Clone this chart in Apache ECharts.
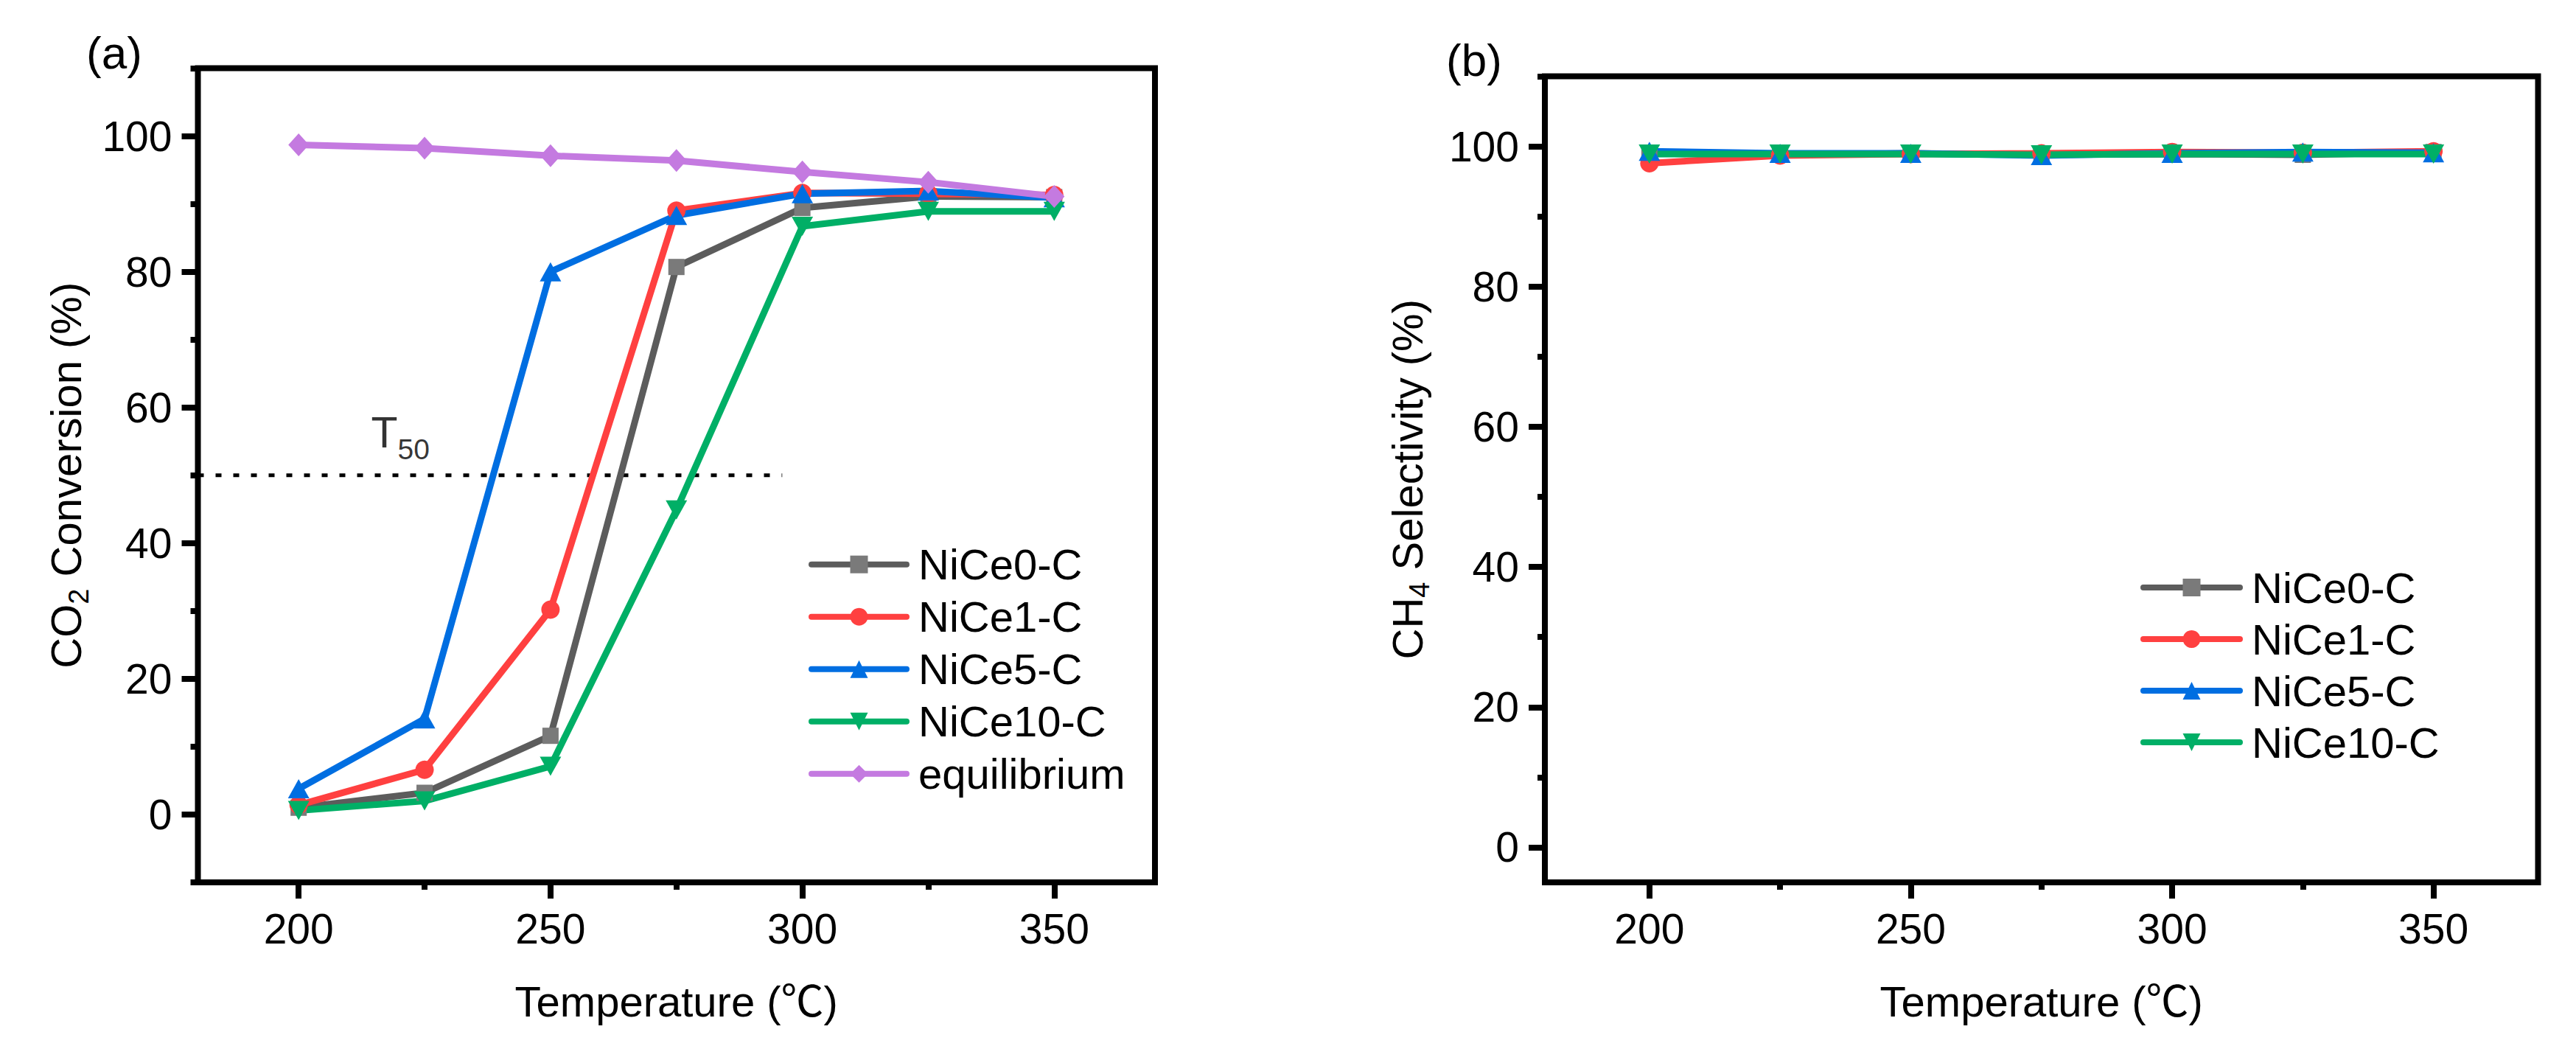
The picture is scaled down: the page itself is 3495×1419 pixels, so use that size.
<!DOCTYPE html>
<html>
<head>
<meta charset="utf-8">
<script src="https://cdn.jsdelivr.net/npm/echarts@6/dist/echarts.min.js"></script>
<style>
html,body{margin:0;padding:0;background:#ffffff;}
#chart{width:3495px;height:1419px;}
</style>
</head>
<body>
<div id="chart"></div>
<script>
// ---------- data ----------
const temps = [200, 225, 250, 275, 300, 325, 350];

// (a) CO2 conversion (%)
const convNiCe0  = [1.0, 3.2, 11.6, 80.7, 89.4, 91.1, 91.0];
const convNiCe1  = [1.4, 6.6, 30.2, 89.0, 91.6, 91.5, 91.3];
const convNiCe5  = [3.8, 14.1, 80.0, 88.3, 91.5, 91.9, 90.9];
const convNiCe10 = [0.6, 2.0, 7.1, 44.9, 86.7, 88.9, 88.9];
const convEquil  = [98.7, 98.2, 97.1, 96.4, 94.7, 93.2, 91.1];

// (b) CH4 selectivity (%)
const selNiCe0  = [99.0, 98.8, 99.0, 98.8, 98.9, 98.8, 99.2];
const selNiCe1  = [97.6, 98.7, 98.9, 99.0, 99.2, 99.1, 99.3];
const selNiCe5  = [99.3, 99.0, 99.0, 98.7, 99.0, 99.2, 99.1];
const selNiCe10 = [98.9, 98.9, 98.9, 98.8, 98.9, 98.9, 98.9];

// T50 reference line and its label
const t50Value = 50;
const t50XRange = [180, 296];
const t50LabelAt = [220.2, 56.3];

// tick values
const xMajorTicks = [200, 250, 300, 350];
const xMinorTicks = [225, 275, 325];
const yMajorTicks = [0, 20, 40, 60, 80, 100];
const yMinorTicksA = [-10, 10, 30, 50, 70, 90, 110];
const yMinorTicksB = [10, 30, 50, 70, 90, 110];

const seriesNames = ['NiCe0-C', 'NiCe1-C', 'NiCe5-C', 'NiCe10-C', 'equilibrium'];

// ---------- styles ----------
const FONT = '"Liberation Sans", Arial, "Noto Sans CJK SC", sans-serif';
const DOWN_TRI = 'path://M0,0L10,0L5,10Z';
const styles = {
  'NiCe0-C':     {line: '#5c5c5c', item: '#7a7a7a', symbol: 'rect', size: 22},
  'NiCe1-C':     {line: '#ff4040', item: '#ff4040', symbol: 'circle', size: 25},
  'NiCe5-C':     {line: '#006ee1', item: '#006ee1', symbol: 'triangle', size: [29, 26]},
  'NiCe10-C':    {line: '#00af66', item: '#00af66', symbol: DOWN_TRI, size: [29, 26]},
  'equilibrium': {line: '#c47ae0', item: '#c47ae0', symbol: 'diamond', size: [28, 31]}
};

function pairs(xs, ys) { return xs.map((x, i) => [x, ys[i]]); }

function makeSeries(name, values, xi, yi) {
  const s = styles[name];
  return {
    name: name, type: 'line', xAxisIndex: xi, yAxisIndex: yi,
    data: pairs(temps, values),
    symbol: s.symbol, symbolSize: s.size, showSymbol: true,
    lineStyle: {color: s.line, width: 9},
    itemStyle: {color: s.item},
    emphasis: {disabled: true},
    z: 3
  };
}

const tickStyle = {color: '#000', width: 8, cap: 'butt'};
const labelStyle = {fontSize: 57, color: '#000', fontFamily: FONT};
const titleRich = {
  a: {fontSize: 58, fontFamily: FONT, color: '#000', lineHeight: 58, verticalAlign: 'top'},
  b: {fontSize: 38, fontFamily: FONT, color: '#000', lineHeight: 38, verticalAlign: 'top', padding: [27, 0, 0, 0]}
};

function xMajor(gi, gap) {
  return {
    gridIndex: gi, type: 'value', position: 'bottom', min: 180, max: 370,
    axisLine: {show: false, onZero: false}, splitLine: {show: false},
    axisTick: {show: true, inside: false, length: 22, lineStyle: tickStyle, customValues: xMajorTicks},
    axisLabel: Object.assign({show: true, margin: 34, customValues: xMajorTicks}, labelStyle),
    name: 'Temperature (℃)', nameLocation: 'middle', nameGap: gap,
    nameTextStyle: {fontSize: 58, color: '#000', fontFamily: FONT}
  };
}
function xMinor(gi) {
  return {
    gridIndex: gi, type: 'value', position: 'bottom', min: 180, max: 370,
    axisLine: {show: false, onZero: false}, splitLine: {show: false}, axisLabel: {show: false},
    axisTick: {show: true, inside: false, length: 10, lineStyle: tickStyle, customValues: xMinorTicks}
  };
}
function yMajor(gi, min, name, gap) {
  return {
    gridIndex: gi, type: 'value', position: 'left', min: min, max: 110,
    axisLine: {show: false, onZero: false}, splitLine: {show: false},
    axisTick: {show: true, inside: false, length: 22, lineStyle: tickStyle, customValues: yMajorTicks},
    axisLabel: Object.assign({show: true, margin: 35, customValues: yMajorTicks}, labelStyle),
    name: name, nameLocation: 'middle', nameRotate: 90, nameGap: gap,
    nameTextStyle: {rich: titleRich}
  };
}
function yMinor(gi, min, ticks) {
  return {
    gridIndex: gi, type: 'value', position: 'left', min: min, max: 110,
    axisLine: {show: false, onZero: false}, splitLine: {show: false}, axisLabel: {show: false},
    axisTick: {show: true, inside: false, length: 10, lineStyle: tickStyle, customValues: ticks}
  };
}

const frame = {show: true, borderColor: '#000', borderWidth: 8, backgroundColor: 'transparent'};
const legendText = {fontSize: 58, lineHeight: 58, color: '#000', fontFamily: FONT, padding: [0, 0, 0, 11]};

const option = {
  animation: false,
  backgroundColor: '#ffffff',
  grid: [
    Object.assign({left: 268.5, top: 92.5, width: 1298.5, height: 1104.5, containLabel: false}, frame),
    Object.assign({left: 2096, top: 103.5, width: 1347.5, height: 1093.5, containLabel: false}, frame)
  ],
  xAxis: [xMajor(0, 132), xMinor(0), xMajor(1, 132), xMinor(1)],
  yAxis: [
    yMajor(0, -10, '{a|CO}{b|2}{a| Conversion (%)}', 150),
    yMinor(0, -10, yMinorTicksA),
    yMajor(1, -5, '{a|CH}{b|4}{a| Selectivity (%)}', 158),
    yMinor(1, -5, yMinorTicksB)
  ],
  legend: [
    {
      data: seriesNames, orient: 'vertical', left: 1097, top: 736.7, padding: 0,
      itemWidth: 129, itemHeight: 30, itemGap: 13, selectedMode: false,
      lineStyle: {width: 8, cap: 'round'},
      textStyle: legendText
    },
    {
      data: seriesNames.slice(0, 4), orient: 'vertical', left: 2904, top: 768, padding: 0,
      itemWidth: 131, itemHeight: 30, itemGap: 12, selectedMode: false,
      lineStyle: {width: 8, cap: 'round'},
      textStyle: legendText
    }
  ],
  graphic: [
    {type: 'text', left: 117, top: 40, style: {text: '(a)', font: '62px ' + FONT, fill: '#000'}},
    {type: 'text', left: 1962, top: 50, style: {text: '(b)', font: '62px ' + FONT, fill: '#000'}}
  ],
  series: [
    {
      name: 'T50 line', type: 'line', xAxisIndex: 0, yAxisIndex: 0,
      data: [[t50XRange[0], t50Value], [t50XRange[1], t50Value]],
      symbol: 'none', silent: true, z: 1,
      lineStyle: {color: '#000', width: 5, type: [8, 16]}
    },
    {
      name: 'T50 label', type: 'scatter', xAxisIndex: 0, yAxisIndex: 0,
      data: [t50LabelAt], symbolSize: 1, silent: true, z: 1,
      itemStyle: {color: 'rgba(0,0,0,0)'},
      label: {
        show: true, position: 'inside', formatter: '{t|T}{s|50}',
        rich: {
          t: {fontSize: 59, fontFamily: FONT, color: '#000', lineHeight: 59, verticalAlign: 'top'},
          s: {fontSize: 39, fontFamily: FONT, color: '#000', lineHeight: 39, verticalAlign: 'top', padding: [33, 0, 0, 0]}
        }
      }
    },
    makeSeries('NiCe0-C', convNiCe0, 0, 0),
    makeSeries('NiCe1-C', convNiCe1, 0, 0),
    makeSeries('NiCe5-C', convNiCe5, 0, 0),
    makeSeries('NiCe10-C', convNiCe10, 0, 0),
    makeSeries('equilibrium', convEquil, 0, 0),
    makeSeries('NiCe0-C', selNiCe0, 2, 2),
    makeSeries('NiCe1-C', selNiCe1, 2, 2),
    makeSeries('NiCe5-C', selNiCe5, 2, 2),
    makeSeries('NiCe10-C', selNiCe10, 2, 2)
  ]
};

const chart = echarts.init(document.getElementById('chart'), null, {renderer: 'svg', width: 3495, height: 1419});
chart.setOption(option);
</script>
</body>
</html>
